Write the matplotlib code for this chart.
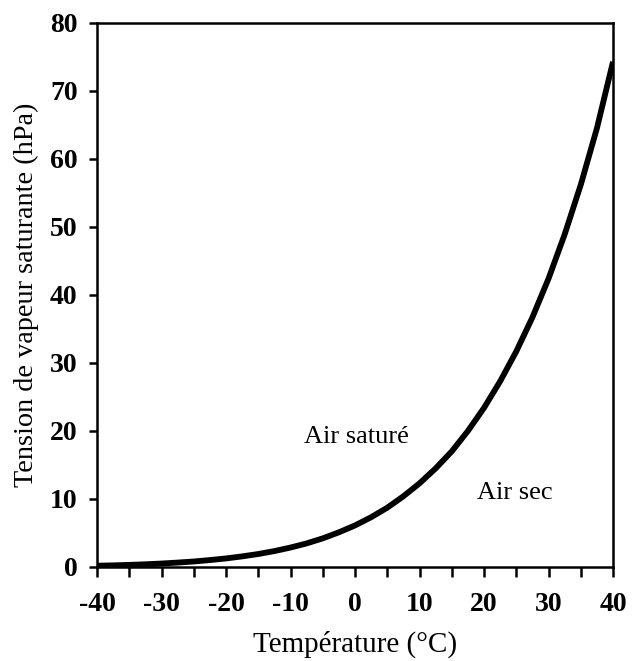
import matplotlib
matplotlib.use("Agg")
import matplotlib.pyplot as plt
from matplotlib.ticker import MultipleLocator

# Saturation vapour pressure (hPa) versus temperature (°C)
temperature = [-40, -37.5, -35, -32.5, -30, -27.5, -25, -22.5, -20, -17.5, -15,
               -12.5, -10, -7.5, -5, -2.5, 0, 2.5, 5, 7.5, 10, 12.5, 15, 17.5,
               20, 22.5, 25, 27.5, 30, 32.5, 35, 37.5, 40]
pressure = [0.19, 0.24, 0.31, 0.40, 0.51, 0.65, 0.81, 1.02, 1.26, 1.56, 1.91,
            2.34, 2.86, 3.47, 4.21, 5.10, 6.11, 7.32, 8.72, 10.4, 12.3, 14.5,
            17.0, 20.0, 23.4, 27.3, 31.7, 36.7, 42.4, 48.9, 56.2, 64.5, 74.3]

x_ticks = [-40, -30, -20, -10, 0, 10, 20, 30, 40]
y_ticks = [0, 10, 20, 30, 40, 50, 60, 70, 80]
region_labels = ["Air saturé", "Air sec"]

plt.rcParams["font.family"] = ["Liberation Serif", "DejaVu Serif"]
plt.rcParams["axes.unicode_minus"] = False

fig = plt.figure(figsize=(6.32, 6.61), dpi=100)
ax = fig.add_axes([97 / 632, 94 / 661, 516 / 632, 544 / 661])

ax.plot(temperature, pressure, color="black", lw=4.2, solid_capstyle="butt")

ax.set_xlim(-40, 40)
ax.set_ylim(0, 80)
ax.set_xticks(x_ticks)
ax.set_yticks(y_ticks)
ax.xaxis.set_minor_locator(MultipleLocator(5))
ax.tick_params(axis="both", which="both", direction="out", width=1.8,
               colors="black")
ax.tick_params(axis="both", which="major", length=6, labelsize=20)
ax.tick_params(axis="x", which="major", length=7, pad=11)
ax.tick_params(axis="y", which="major", pad=8)
ax.tick_params(axis="x", which="minor", length=7)
for lab in ax.get_xticklabels() + ax.get_yticklabels():
    lab.set_fontweight("bold")
for side in ax.spines.values():
    side.set_linewidth(1.8)

ax.set_xlabel("Température (°C)", fontsize=21, labelpad=10)
ax.set_ylabel("Tension de vapeur saturante (hPa)", fontsize=20.3, labelpad=8)

ax.text(0.3, 19.1, region_labels[0], fontsize=19, ha="center", va="center")
ax.text(24.8, 10.9, region_labels[1], fontsize=19, ha="center", va="center")

fig.savefig("out.png", dpi=100)
